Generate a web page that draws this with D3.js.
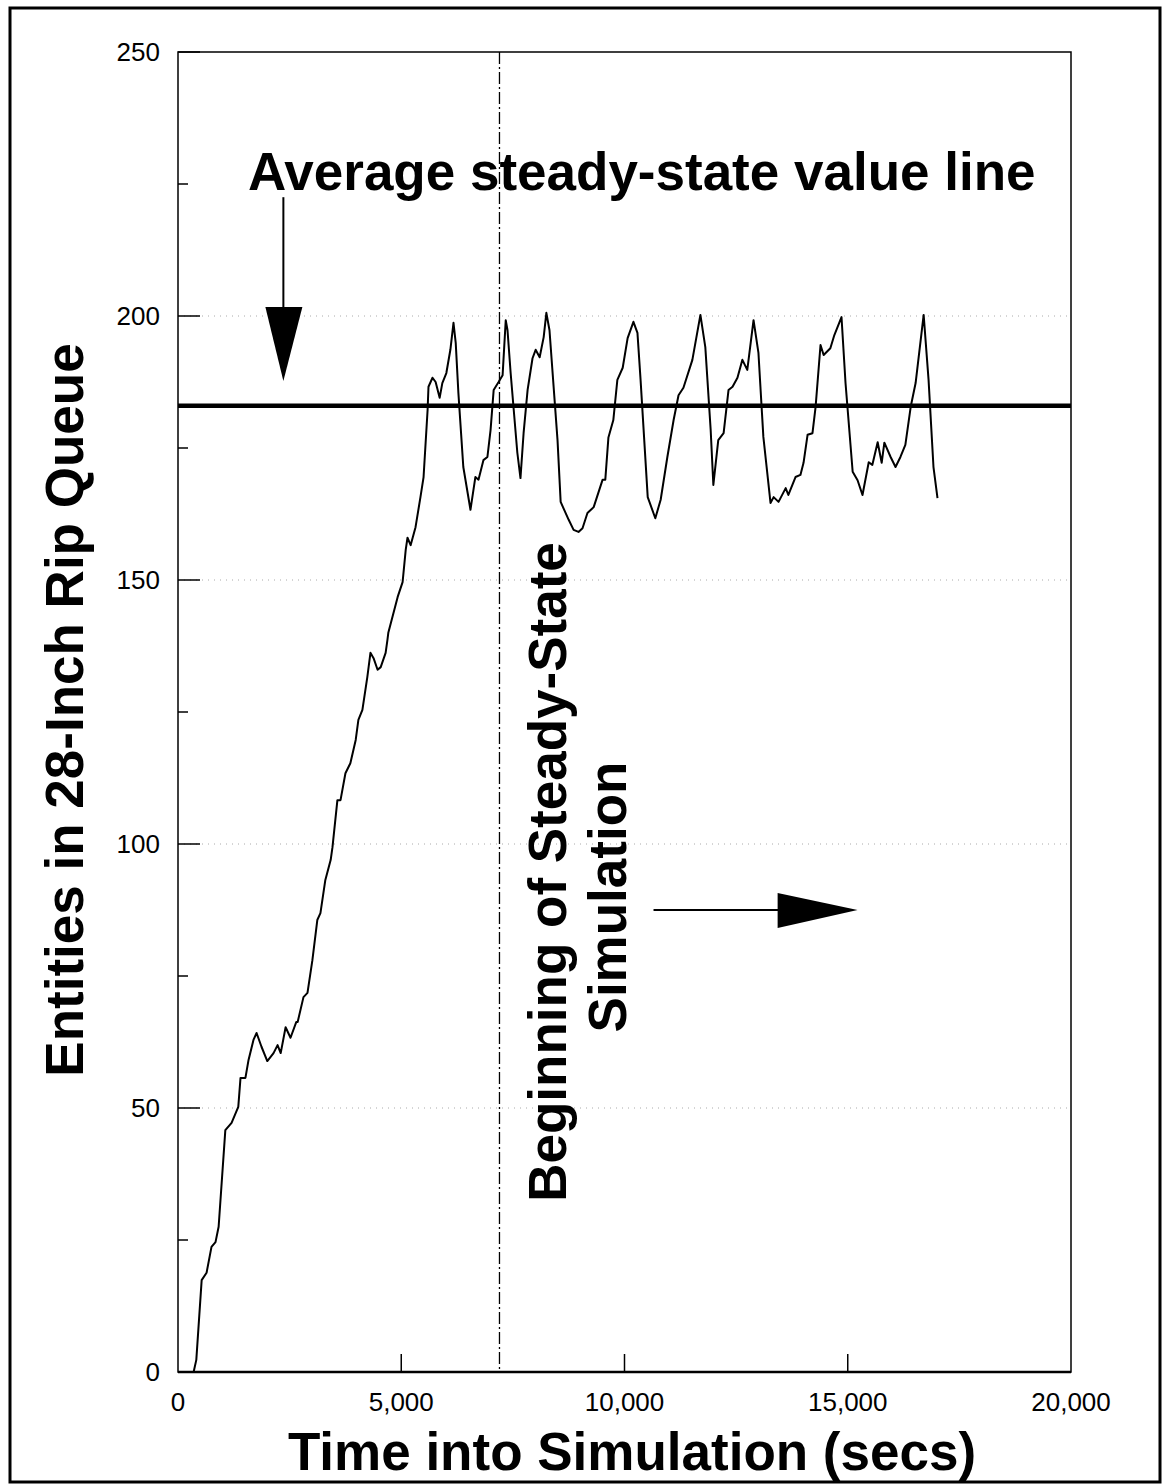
<!DOCTYPE html>
<html>
<head>
<meta charset="utf-8">
<script src="https://cdn.jsdelivr.net/npm/d3@7"></script>
<style>
  body { margin: 0; background: #fff; }
  svg { display: block; font-family: "Liberation Sans", Arial, sans-serif; }
</style>
</head>
<body>
<div id="chart"></div>
<script>
// time into simulation (secs)
var times = [0, 350, 410, 530, 640, 750, 840, 910, 1060, 1200, 1350, 1400, 1510, 1580, 1690, 1760, 1870, 2000, 2140, 2230, 2300, 2410, 2520, 2650,
  2680, 2810, 2900, 3010, 3120, 3190, 3300, 3420, 3460, 3570, 3640, 3750, 3860, 3980, 4040, 4130, 4240, 4310, 4380, 4470, 4540, 4650, 4690,
  4710, 4920, 5030, 5100, 5140, 5210, 5320, 5430, 5500, 5590, 5610, 5700, 5770, 5860, 5920, 6010, 6100, 6170, 6220, 6280, 6390, 6550, 6660,
  6730, 6840, 6930, 7000, 7070, 7180, 7270, 7340, 7380, 7450, 7600, 7670, 7740, 7830, 7940, 8010, 8100, 8190, 8250, 8320, 8500, 8570, 8680,
  8750, 8860, 8970, 9060, 9170, 9310, 9510, 9570, 9640, 9750, 9840, 9960, 10070, 10200, 10290, 10360, 10520, 10690, 10810, 10960, 11100,
  11210, 11320, 11520, 11700, 11810, 11930, 11990, 12100, 12220, 12330, 12420, 12530, 12640, 12750, 12890, 13000, 13110, 13270, 13340,
  13450, 13610, 13670, 13830, 13940, 14010, 14100, 14210, 14280, 14390, 14460, 14610, 14700, 14860, 14950, 15110, 15220, 15330, 15470,
  15550, 15670, 15760, 15820, 15960, 16070, 16180, 16290, 16410, 16520, 16700, 16810, 16920, 17010];

// entities in 28-inch rip queue
var entities = [0, 0, 2.3, 17.4, 18.8, 23.7, 24.6, 27.5, 45.8, 47.2, 50.2, 55.7, 55.7, 59.1, 62.9, 64.2, 61.6, 58.9, 60.4, 61.9, 60.4, 65.3, 63.3, 66.3,
  66.3, 71.0, 71.8, 78.0, 85.6, 86.9, 93.2, 97.0, 99.4, 108.3, 108.3, 113.4, 115.3, 119.7, 123.5, 125.4, 131.6, 136.2, 135.2, 133.0, 133.5, 136.2, 138.6,
  140.0, 146.8, 149.6, 155.7, 158.0, 156.6, 160.0, 165.7, 169.5, 182.2, 186.6, 188.3, 187.5, 184.5, 187.3, 189.2, 193.6, 198.7, 194.9, 185.4, 171.4, 163.3, 169.5,
  169.0, 172.7, 173.3, 178.4, 186.0, 187.5, 188.8, 199.2, 197.3, 189.2, 174.1, 169.3, 177.8, 186.0, 192.0, 193.6, 192.2, 196.0, 200.6, 197.3, 176.5, 164.8, 162.7,
  161.4, 159.5, 159.1, 159.8, 162.7, 163.8, 169.0, 169.0, 177.0, 180.3, 187.9, 190.2, 195.8, 198.9, 196.8, 187.9, 165.7, 161.7, 165.2, 173.3, 180.3,
  185.0, 186.4, 191.7, 200.2, 194.1, 178.4, 168.0, 176.5, 177.8, 186.0, 186.6, 188.3, 191.7, 189.8, 199.2, 193.0, 177.1, 164.6, 165.7,
  164.8, 167.4, 166.1, 169.5, 169.9, 172.2, 177.5, 177.8, 182.8, 194.5, 192.6, 193.9, 196.4, 199.8, 187.3, 170.5, 168.9, 166.1, 172.3,
  171.8, 176.1, 172.2, 176.0, 173.3, 171.4, 173.3, 175.6, 182.8, 187.3, 200.2, 187.9, 171.4, 165.5];

var xTicks = [0, 5000, 10000, 15000, 20000];
var yMajor = [0, 50, 100, 150, 200, 250];
var yMinor = [25, 75, 125, 175, 225];
var gridValues = [50, 100, 150, 200];

var steadyAverage = 183;
var steadyStart = 7200;

var width = 1164, height = 1484;
var margin = {left: 178, top: 52, right: 1071, bottom: 1372};

var svg = d3.select('#chart').append('svg').attr('width', width).attr('height', height);

var x = d3.scaleLinear().domain([0, 20000]).range([margin.left, margin.right]);
var y = d3.scaleLinear().domain([0, 250]).range([margin.bottom, margin.top]);

// outer border
svg.append('rect').attr('x', 10).attr('y', 8).attr('width', 1150).attr('height', 1474)
  .attr('fill', 'none').attr('stroke', '#000').attr('stroke-width', 3);

// dotted gridlines
svg.selectAll('.grid').data(gridValues).enter().append('line')
  .attr('x1', x(0)).attr('x2', x(20000))
  .attr('y1', function(d) { return y(d); }).attr('y2', function(d) { return y(d); })
  .attr('stroke', '#aaa').attr('stroke-width', 1).attr('stroke-dasharray', '1,5');

// plot frame
svg.append('rect').attr('x', x(0)).attr('y', y(250))
  .attr('width', x(20000) - x(0)).attr('height', y(0) - y(250))
  .attr('fill', 'none').attr('stroke', '#000').attr('stroke-width', 1.5);
svg.append('line').attr('x1', x(0)).attr('x2', x(20000)).attr('y1', y(0)).attr('y2', y(0))
  .attr('stroke', '#000').attr('stroke-width', 2.5);

// y ticks and labels
svg.selectAll('.ymaj').data(yMajor).enter().append('line')
  .attr('x1', x(0)).attr('x2', x(0) + 22)
  .attr('y1', function(d) { return y(d); }).attr('y2', function(d) { return y(d); })
  .attr('stroke', '#000').attr('stroke-width', 1.5);
svg.selectAll('.ymin').data(yMinor).enter().append('line')
  .attr('x1', x(0)).attr('x2', x(0) + 10)
  .attr('y1', function(d) { return y(d); }).attr('y2', function(d) { return y(d); })
  .attr('stroke', '#000').attr('stroke-width', 1.5);
svg.selectAll('.ylab').data(yMajor).enter().append('text')
  .attr('x', 160).attr('y', function(d) { return y(d) + 9; })
  .attr('text-anchor', 'end').attr('font-size', 26)
  .text(function(d) { return d; });

// x ticks and labels
svg.selectAll('.xt').data(xTicks.slice(1, 4)).enter().append('line')
  .attr('x1', function(d) { return x(d); }).attr('x2', function(d) { return x(d); })
  .attr('y1', y(0)).attr('y2', y(0) - 18)
  .attr('stroke', '#000').attr('stroke-width', 1.5);
svg.selectAll('.xlab').data(xTicks).enter().append('text')
  .attr('x', function(d) { return x(d); }).attr('y', 1411)
  .attr('text-anchor', 'middle').attr('font-size', 26)
  .text(function(d) { return d3.format(',')(d); });

// start of steady state (dash-dot)
svg.append('line').attr('x1', x(steadyStart)).attr('x2', x(steadyStart))
  .attr('y1', y(250)).attr('y2', y(0))
  .attr('stroke', '#000').attr('stroke-width', 1.3).attr('stroke-dasharray', '12,3,2,3');

// average steady-state line
svg.append('line').attr('x1', x(0)).attr('x2', x(20000))
  .attr('y1', y(steadyAverage)).attr('y2', y(steadyAverage))
  .attr('stroke', '#000').attr('stroke-width', 4.5);

// queue curve
var line = d3.line()
  .x(function(d, i) { return x(times[i]); })
  .y(function(d) { return y(d); });
svg.append('path').datum(entities).attr('d', line)
  .attr('fill', 'none').attr('stroke', '#000').attr('stroke-width', 2).attr('stroke-linejoin', 'round');

// arrows
var downX = x(2360);
svg.append('line').attr('x1', downX).attr('x2', downX).attr('y1', y(222.5)).attr('y2', y(201))
  .attr('stroke', '#000').attr('stroke-width', 2);
svg.append('path')
  .attr('d', 'M' + (downX - 18) + ',' + y(201.7) + 'L' + (downX + 19) + ',' + y(201.7) + 'L' + downX + ',' + y(187.7) + 'Z')
  .attr('fill', '#000');

var arrowY = y(87.5);
svg.append('line').attr('x1', x(10650)).attr('x2', x(14000)).attr('y1', arrowY).attr('y2', arrowY)
  .attr('stroke', '#000').attr('stroke-width', 2);
svg.append('path')
  .attr('d', 'M' + x(13430) + ',' + (arrowY - 17) + 'L' + x(15220) + ',' + arrowY + 'L' + x(13430) + ',' + (arrowY + 18) + 'Z')
  .attr('fill', '#000');

// annotation text
svg.append('text').attr('x', 248).attr('y', 190)
  .attr('font-size', 53).attr('font-weight', 'bold')
  .text('Average steady-state value line');

svg.append('text').attr('transform', 'translate(566,872) rotate(-90)')
  .attr('text-anchor', 'middle').attr('font-size', 53).attr('font-weight', 'bold')
  .text('Beginning of Steady-State');
svg.append('text').attr('transform', 'translate(626,897) rotate(-90)')
  .attr('text-anchor', 'middle').attr('font-size', 53).attr('font-weight', 'bold')
  .text('Simulation');

// axis titles
svg.append('text').attr('transform', 'translate(83,710) rotate(-90)')
  .attr('text-anchor', 'middle').attr('font-size', 53).attr('font-weight', 'bold')
  .text('Entities in 28-Inch Rip Queue');
svg.append('text').attr('x', 632).attr('y', 1470)
  .attr('text-anchor', 'middle').attr('font-size', 53).attr('font-weight', 'bold')
  .text('Time into Simulation (secs)');
</script>
</body>
</html>
